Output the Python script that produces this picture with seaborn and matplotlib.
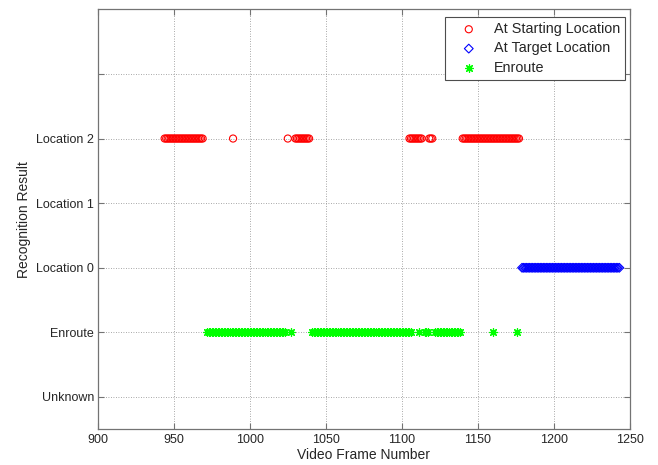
import numpy as np
import pandas as pd
import matplotlib
matplotlib.use("Agg")
import matplotlib.pyplot as plt
import seaborn as sns

# frame runs (start, end), inclusive
start_runs = [(944, 969), (989, 989), (1025, 1025), (1030, 1039),
              (1105, 1113), (1118, 1120), (1140, 1177)]
target_runs = [(1179, 1243)]
enroute_runs = [(972, 1023), (1027, 1027), (1041, 1106), (1111, 1111),
                (1115, 1117), (1122, 1138), (1160, 1160), (1176, 1176)]

# recognition levels (y positions) for each series
level_names = ["Unknown", "Enroute", "Location 0", "Location 1", "Location 2"]
start_level = 4
target_level = 2
enroute_level = 1

x_ticks = [900, 950, 1000, 1050, 1100, 1150, 1200, 1250]


def frames(runs):
    return np.concatenate([np.arange(a, b + 1) for a, b in runs])


df_start = pd.DataFrame({"frame": frames(start_runs)})
df_start["result"] = start_level
df_target = pd.DataFrame({"frame": frames(target_runs)})
df_target["result"] = target_level
df_enroute = pd.DataFrame({"frame": frames(enroute_runs)})
df_enroute["result"] = enroute_level

sns.set_style("white")
plt.rcParams["font.family"] = ["Liberation Sans", "DejaVu Sans"]

fig = plt.figure(figsize=(6.58, 4.65), dpi=100)
ax = fig.add_axes([97.7 / 658, 1 - 429.3 / 465, (630 - 97.7) / 658, (429.3 - 9.3) / 465])

sns.scatterplot(data=df_start, x="frame", y="result", marker="o", s=26,
                facecolor="none", edgecolor="#ff0000", linewidth=0.8,
                label="At Starting Location", ax=ax)
sns.scatterplot(data=df_target, x="frame", y="result", marker="D", s=20,
                facecolor="none", edgecolor="#0000ff", linewidth=0.8,
                label="At Target Location", ax=ax)
sns.scatterplot(data=df_enroute, x="frame", y="result", marker=(8, 2, 0), s=30,
                color="#00ff00", edgecolor="#00ff00", linewidth=0.9,
                label="Enroute", ax=ax)

ax.set_xlim(900, 1250)
ax.set_ylim(-0.5, 6)
ax.set_xticks(x_ticks)
ax.set_xticklabels([str(t) for t in x_ticks], fontsize=9)
ax.set_yticks(range(6))
ax.set_yticklabels(level_names + [""], fontsize=9)
ax.set_xlabel("Video Frame Number", fontsize=10, labelpad=1)
ax.set_ylabel("Recognition Result", fontsize=10, labelpad=4)

ax.grid(True, linestyle=(0, (1, 2)), color="0.55", linewidth=0.6)
ax.set_axisbelow(True)
for sp in ax.spines.values():
    sp.set_color("0.45")
    sp.set_linewidth(0.9)
ax.tick_params(direction="in", length=4, width=0.8, color="0.45",
               top=True, right=True, bottom=True, left=True)
ax.tick_params(axis="x", pad=3.5)
ax.tick_params(axis="y", pad=2.5)

leg = ax.legend(loc="upper right", bbox_to_anchor=(0.9906, 0.9817), fontsize=10.4,
                frameon=True, fancybox=False, edgecolor="0.3", framealpha=1,
                borderaxespad=0, borderpad=0.35, handletextpad=0.45,
                labelspacing=0.37, handlelength=2.55, markerscale=1.0)
leg.get_frame().set_linewidth(0.8)

fig.savefig("out.png", dpi=100)
